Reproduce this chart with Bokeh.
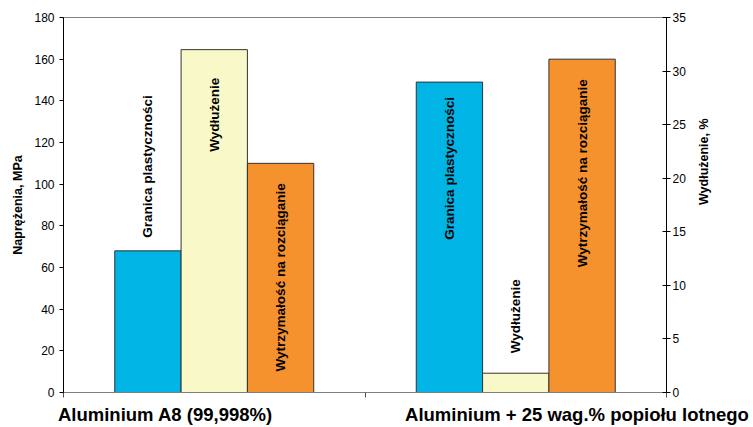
import math
from bokeh.plotting import figure
from bokeh.models import Range1d, LinearAxis, FixedTicker
from bokeh.embed import file_html
from bokeh.resources import INLINE
from bokeh.core.properties import value

# ---- data ----
categories = ["Aluminium A8 (99,998%)", "Aluminium + 25 wag.% popiołu lotnego"]
series_names = ["Granica plastyczności", "Wydłużenie", "Wytrzymałość na rozciąganie"]
granica = [68, 149]        # MPa (left axis)
wydluzenie = [32.0, 1.8]   # % (right axis)
wytrzymalosc = [110, 160]  # MPa (left axis)
left_ticks = [0, 20, 40, 60, 80, 100, 120, 140, 160, 180]
right_ticks = [0, 5, 10, 15, 20, 25, 30, 35]
left_title = "Naprężenia, MPa"
right_title = "Wydłużenie, %"

# ---- styles / layout ----
FONT = "Liberation Sans"
colors = ["#00B4E6", "#F8F8C8", "#F6922E"]
bar_w = 0.22
offsets = [-0.22, 0.0, 0.22]
range_names = ["default", "pct", "default"]
label_inside = [[False, True], [True, False], [True, True]]
label_gap = [[13, 15], [28, 20], [20, 20]]
cat_label_pos = [0.338, 1.703]   # where the category names are centred (x units)

p = figure(width=753, height=427, output_backend="svg", toolbar_location=None,
           x_range=Range1d(0, len(categories)), y_range=Range1d(0, 180),
           min_border_left=63, min_border_right=87, min_border_top=17, min_border_bottom=35)
p.extra_y_ranges = {"pct": Range1d(0, 35)}
p.xgrid.visible = False
p.ygrid.visible = False
p.outline_line_color = "#808080"
p.outline_line_width = 1
p.background_fill_color = "white"
p.border_fill_color = "white"

# left axis
ya = p.yaxis[0]
ya.ticker = FixedTicker(ticks=left_ticks)
ya.axis_line_color = "black"
ya.major_tick_line_color = "black"
ya.major_tick_out = 4
ya.major_tick_in = 0
ya.minor_tick_line_color = None
ya.major_label_text_font = FONT
ya.major_label_text_font_size = "12px"
ya.major_label_text_color = "black"
ya.major_label_standoff = 5
ya.axis_label = left_title
ya.axis_label_text_font = FONT
ya.axis_label_text_font_style = "bold"
ya.axis_label_text_font_size = "12.5px"
ya.axis_label_text_color = "black"
ya.axis_label_standoff = 6

# bottom axis (ticks at category boundaries)
xa = p.xaxis[0]
xa.ticker = FixedTicker(ticks=list(range(len(categories) + 1)))
xa.major_label_overrides = {i: "" for i in range(len(categories) + 1)}
xa.axis_line_color = "#808080"
xa.major_tick_line_color = "#505050"
xa.major_tick_out = 5
xa.major_tick_in = 0
xa.minor_tick_line_color = None
xa.major_label_text_font_size = "1px"
xa.major_label_standoff = 0

# second bottom axis carrying the category names
xb = LinearAxis(ticker=FixedTicker(ticks=cat_label_pos))
xb.major_label_overrides = {pos: name for pos, name in zip(cat_label_pos, categories)}
xb.axis_line_color = None
xb.major_tick_line_color = None
xb.minor_tick_line_color = None
xb.major_label_text_font = FONT
xb.major_label_text_font_style = "bold"
xb.major_label_text_font_size = "18.5px"
xb.major_label_text_color = "black"
xb.major_label_standoff = 0
p.add_layout(xb, "below")

# right axis
ra = LinearAxis(y_range_name="pct", ticker=FixedTicker(ticks=right_ticks))
ra.axis_line_color = "black"
ra.major_tick_line_color = "black"
ra.major_tick_out = 4
ra.major_tick_in = 4
ra.minor_tick_line_color = None
ra.major_label_text_font = FONT
ra.major_label_text_font_size = "12px"
ra.major_label_text_color = "black"
ra.major_label_standoff = 2
ra.axis_label = right_title
ra.axis_label_text_font = FONT
ra.axis_label_text_font_style = "bold"
ra.axis_label_text_font_size = "12.5px"
ra.axis_label_text_color = "black"
ra.axis_label_standoff = 15
if "axis_label_orientation" in ra.properties():
    ra.axis_label_orientation = math.pi / 2
p.add_layout(ra, "right")

# bars + labels
series = [granica, wydluzenie, wytrzymalosc]
for s, vals in enumerate(series):
    xs = [i + 0.5 + offsets[s] for i in range(len(categories))]
    p.vbar(x=xs, top=vals, bottom=0, width=bar_w, fill_color=colors[s],
           line_color="#333333", line_width=1, y_range_name=range_names[s])
    for i in range(len(categories)):
        inside = label_inside[s][i]
        gap = label_gap[s][i]
        p.text(x=[xs[i]], y=[vals[i]], text=[series_names[s]], angle=math.pi / 2,
               text_align="right" if inside else "left", text_baseline="middle",
               y_offset=gap if inside else -gap,
               text_font=value(FONT), text_font_style="bold", text_font_size="13.5px",
               text_color="black", y_range_name=range_names[s])

open("out.html", "w").write(file_html(p, INLINE))
